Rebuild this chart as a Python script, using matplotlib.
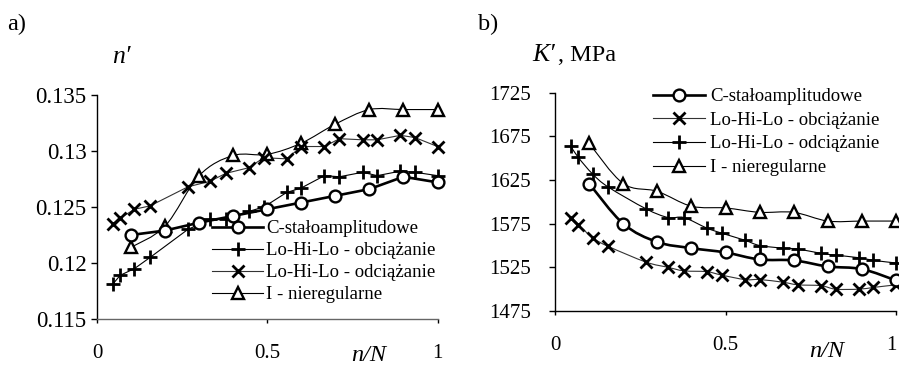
import numpy as np
import matplotlib
matplotlib.use("Agg")
import matplotlib.pyplot as plt
from matplotlib.path import Path
from matplotlib.patches import PathPatch
from matplotlib.lines import Line2D
from matplotlib.transforms import ScaledTranslation

plt.rcParams['font.family'] = ['Liberation Serif', 'DejaVu Serif']

# ---- data -------------------------------------------------------------
frac_coarse = [0.1, 0.2, 0.3, 0.4, 0.5, 0.6, 0.7, 0.8, 0.9, 1.0]
frac_fine = [0.046, 0.068, 0.11, 0.156, 0.267, 0.332, 0.378, 0.445, 0.49,
             0.557, 0.6, 0.668, 0.712, 0.78, 0.823, 0.891, 0.934, 1.0]

# a) cyclic strain hardening exponent n'
n_const = [0.1225, 0.1229, 0.1236, 0.1242, 0.1248, 0.1254, 0.1260, 0.1266, 0.1277, 0.1272]
n_load = [0.1181, 0.1189, 0.1195, 0.1205, 0.1230, 0.1239, 0.1239, 0.1246, 0.1250,
          0.1263, 0.1267, 0.1278, 0.1277, 0.1281, 0.1278, 0.1282, 0.1281, 0.1278]
n_unload = [0.1235, 0.1240, 0.1248, 0.1251, 0.1268, 0.1273, 0.1280, 0.1285, 0.1294,
            0.1293, 0.1304, 0.1304, 0.1311, 0.1310, 0.1310, 0.1314, 0.1312, 0.1304]
n_irreg = [0.1214, 0.1233, 0.1278, 0.1296, 0.1297, 0.1307, 0.1324, 0.1337, 0.1337, 0.1337]

# b) cyclic strength coefficient K', MPa
k_const = [1621, 1575, 1554, 1547, 1542, 1534, 1533, 1526, 1523, 1510]
k_load = [1581, 1574, 1559, 1549, 1531, 1525, 1521, 1520, 1516,
          1511, 1511, 1508, 1505, 1504, 1500, 1500, 1502, 1505]
k_unload = [1664, 1651, 1632, 1617, 1592, 1582, 1582, 1570, 1564,
            1556, 1550, 1547, 1546, 1541, 1539, 1536, 1533, 1530]
k_irreg = [1667, 1621, 1612, 1595, 1593, 1588, 1588, 1578, 1578, 1578]

lab_const = "C-stałoamplitudowe"
lab_load = "Lo-Hi-Lo - obciążanie"
lab_unload = "Lo-Hi-Lo - odciążanie"
lab_irreg = "I - nieregularne"

n_ticks = [0.115, 0.12, 0.125, 0.13, 0.135]
n_ticklabels = ["0.115", "0.12", "0.125", "0.13", "0.135"]
k_ticks = [1475, 1525, 1575, 1625, 1675, 1725]
k_ticklabels = ["1475", "1525", "1575", "1625", "1675", "1725"]
x_ticks = [0, 0.5, 1]
x_ticklabels = ["0", "0.5", "1"]

# ---- styles -----------------------------------------------------------
FS = 15          # tick labels
FS_LEG = 13.5    # legend entries
FS_LAB = 17.5    # axis captions
W, H = 899, 365
STY = {
    'o': dict(marker='o', ms=8.5, mew=1.7, mfc='white', mec='black', lw=1.9, color='black'),
    '+': dict(marker='+', ms=9.5, mew=2.0, mec='black', lw=0.8, color='black'),
    'x': dict(marker='x', ms=8, mew=2.0, mec='black', lw=0.8, color='#333333'),
    '^': dict(marker='^', ms=8, mew=1.7, mfc='white', mec='black', lw=0.8, color='black'),
}


def smooth_path(x, y):
    """Cubic Bezier path through the points (spreadsheet-style smoothed line)."""
    p = np.column_stack([x, y]).astype(float)
    n = len(p)
    verts = [p[0]]
    codes = [Path.MOVETO]
    for i in range(n - 1):
        p0 = p[i - 1] if i > 0 else p[i]
        p1, p2 = p[i], p[i + 1]
        p3 = p[i + 2] if i + 2 < n else p[i + 1]
        verts += [p1 + (p2 - p0) / 6.0, p2 - (p3 - p1) / 6.0, p2]
        codes += [Path.CURVE4] * 3
    return Path(verts, codes)


def series(ax, x, y, key, smooth=False):
    s = STY[key]
    if smooth:
        ax.add_patch(PathPatch(smooth_path(x, y), fill=False, ec=s['color'],
                               lw=s['lw'], zorder=2, clip_on=False))
    else:
        ax.plot(x, y, color=s['color'], lw=s['lw'], zorder=2, clip_on=False)
    ax.plot(x, y, ls='none', marker=s['marker'], ms=s['ms'], mew=s['mew'],
            mfc=s.get('mfc', 'none'), mec=s['mec'], zorder=3, clip_on=False)


def handle(key, label):
    s = STY[key]
    return Line2D([], [], color=s['color'], lw=s['lw'], marker=s['marker'],
                  ms=s['ms'], mew=s['mew'], mfc=s.get('mfc', 'none'),
                  mec=s['mec'], label=label)


def style_axes(ax, bottom_color):
    for side in ('top', 'right'):
        ax.spines[side].set_visible(False)
    ax.spines['left'].set_color('black')
    ax.spines['left'].set_linewidth(1.0)
    ax.spines['bottom'].set_color(bottom_color)
    ax.spines['bottom'].set_linewidth(1.0)
    ax.set_xlim(0, 1)
    ax.set_xticks(x_ticks)
    ax.set_xticklabels(x_ticklabels)
    ax.tick_params(axis='x', direction='out', length=3, width=1, pad=15,
                   labelsize=FS, color='black')
    ax.tick_params(axis='y', direction='out', length=4.5, width=1,
                   labelsize=FS, color='black')
    ax.set_facecolor('none')


def fx(px):
    return px / W


def fy(py):
    return 1 - py / H


fig = plt.figure(figsize=(W / 100, H / 100), dpi=100)

# ---- panel a ------------------------------------------------------------
axA = fig.add_axes([fx(97), fy(319), fx(437.5) - fx(97), fy(95) - fy(319)])
style_axes(axA, '#666666')
axA.set_ylim(0.115, 0.135)
axA.set_yticks(n_ticks)
axA.set_yticklabels(n_ticklabels)
axA.tick_params(axis='y', pad=3, labelsize=16.5)

series(axA, frac_coarse, n_irreg, '^', smooth=True)
series(axA, frac_fine, n_unload, 'x')
series(axA, frac_fine, n_load, '+')
series(axA, frac_coarse, n_const, 'o')

fig.legend(handles=[handle('o', lab_const), handle('+', lab_load),
                    handle('x', lab_unload), handle('^', lab_irreg)],
           loc='upper left', bbox_to_anchor=(fx(212), fy(220)),
           frameon=False, fontsize=FS_LEG, numpoints=1, borderpad=0,
           borderaxespad=0, handlelength=2.72, handletextpad=0.16,
           labelspacing=0.26)

fig.text(fx(7), fy(24), "a)", fontsize=FS_LAB, ha='left', va='center')
fig.text(fx(112), fy(57), "n′", fontsize=FS_LAB + 1, style='italic',
         ha='left', va='center')
fig.text(fx(351), fy(361), "n/N", fontsize=FS_LAB, style='italic',
         ha='left', va='baseline')

# ---- panel b ------------------------------------------------------------
axB = fig.add_axes([fx(555), fy(311), fx(896) - fx(555), fy(92.7) - fy(311)])
style_axes(axB, 'black')
axB.set_ylim(1475, 1725)
axB.set_yticks(k_ticks)
axB.set_yticklabels(k_ticklabels)
axB.tick_params(axis='y', pad=13)
# keep the last x label inside the canvas
last = axB.get_xticklabels()[-1]
last.set_transform(last.get_transform() + ScaledTranslation(-4.5 / 100, 0, fig.dpi_scale_trans))

series(axB, frac_coarse, k_irreg, '^', smooth=True)
series(axB, frac_fine, k_unload, '+', smooth=True)
series(axB, frac_fine, k_load, 'x', smooth=True)
series(axB, frac_coarse, k_const, 'o', smooth=True)

fig.legend(handles=[handle('o', lab_const), handle('x', lab_load),
                    handle('+', lab_unload), handle('^', lab_irreg)],
           loc='upper left', bbox_to_anchor=(fx(653), fy(88)),
           frameon=False, fontsize=FS_LEG, numpoints=1, borderpad=0,
           borderaxespad=0, handlelength=2.77, handletextpad=0.27,
           labelspacing=0.35)

fig.text(fx(478), fy(24), "b)", fontsize=FS_LAB, ha='left', va='center')
k_lab = fig.text(fx(532), fy(61), "K′", fontsize=FS_LAB + 1, style='italic',
                 ha='left', va='baseline')
axB.annotate(", MPa", xy=(1.0, 0.0), xycoords=k_lab, xytext=(2, 0),
             textcoords='offset points', fontsize=FS_LAB,
             ha='left', va='bottom', annotation_clip=False)
fig.text(fx(809), fy(357), "n/N", fontsize=FS_LAB, style='italic',
         ha='left', va='baseline')

fig.savefig("out.png", dpi=100, facecolor='white')
